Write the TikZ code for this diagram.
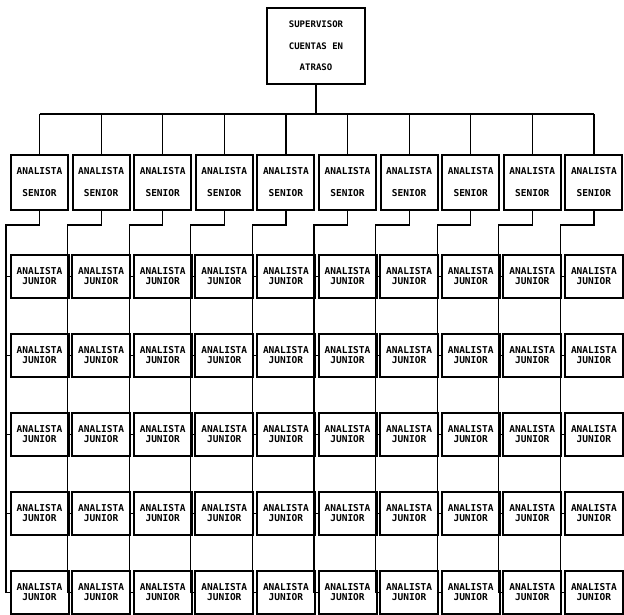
\documentclass[tikz,border=0pt]{standalone}
\usepackage{fontspec}
\newfontfamily\dotfont{DejaVu Sans Mono}
\begin{document}
\begin{tikzpicture}[x=1pt,y=-1pt,
  box/.style={draw, line width=2pt, inner sep=0pt, align=center},
  supbox/.style={box, minimum width=98pt, minimum height=76pt, font=\dotfont\bfseries\fontsize{9}{21.5}\selectfont},
  senbox/.style={box, minimum width=57pt, minimum height=55pt, font=\dotfont\bfseries\fontsize{9.5}{22}\selectfont},
  junbox/.style={box, minimum width=58pt, minimum height=43pt, font=\dotfont\bfseries\fontsize{9.5}{10}\selectfont},
  link/.style={line width=1.2pt}]
\useasboundingbox (0,0) rectangle (624,614);
\node[supbox] (sup) at (316,46) {SUPERVISOR\\CUENTAS EN\\ATRASO};
\draw[link] (sup.south) -- ++(0,29) coordinate (bus);
\foreach \i in {0,...,9}{
  \pgfmathsetmacro{\cx}{39.5+61.6*\i}
  \node[senbox] (s\i) at (\cx,182.5) {ANALISTA\\SENIOR};
  \foreach \r/\yy in {1/276.5,2/355.5,3/434.5,4/513.5,5/592.5}{
    \node[junbox] (j\i-\r) at (\cx,\yy) {ANALISTA\\JUNIOR};
  }
  \coordinate (v\i) at (\cx-33.5,225);
  \draw[link] (s\i.north |- bus) -- (s\i.north);
  \draw[link] (s\i.south) -- (s\i.south |- v\i) -- (v\i) -- (v\i |- j\i-5.west) -- (j\i-5.west);
  \foreach \r in {1,...,4}{
    \draw[link] (v\i |- j\i-\r.west) -- (j\i-\r.west);
  }
}
\draw[link] (s0.north |- bus) -- (s9.north |- bus);
\end{tikzpicture}
\end{document}
